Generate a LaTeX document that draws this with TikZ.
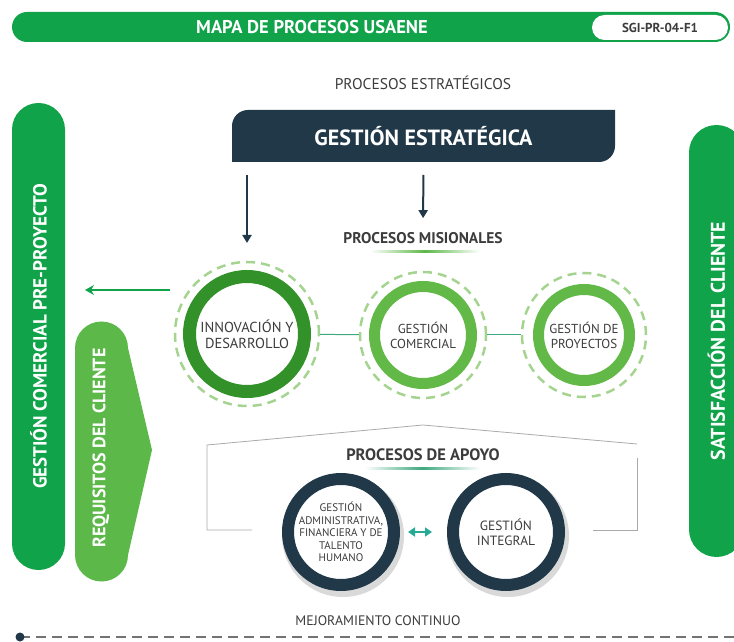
\documentclass[tikz,border=0pt]{standalone}
\usepackage{fontspec}
\setmainfont{PT Sans}
\usetikzlibrary{arrows.meta,backgrounds}

\definecolor{barGreen}{RGB}{16,163,74}
\definecolor{lightGreen}{RGB}{92,184,72}
\definecolor{ringDark}{RGB}{50,145,40}
\definecolor{ringLight}{RGB}{98,185,72}
\definecolor{dashGreen}{RGB}{165,212,145}
\definecolor{navy}{RGB}{32,56,72}
\definecolor{tealLine}{RGB}{62,168,126}
\definecolor{tealArrow}{RGB}{38,170,150}
\definecolor{textGray}{RGB}{60,60,60}
\definecolor{roofGray}{RGB}{170,170,170}

\tikzset{
	sidebar/.style={fill=#1, text=white, rotate=90, inner sep=0pt, outer sep=0pt},
	heading/.style={text=textGray, inner sep=2pt},
	ringnode/.style={circle, fill=white, align=center, text=textGray, inner sep=0pt},
	dashring/.style={circle, draw=dashGreen, line width=2.5pt, dash pattern=on 9pt off 6pt},
	apoyoring/.style={ringnode, draw=navy, line width=12pt, minimum size=106pt},
	navyarrow/.style={navy, line width=2pt, -{Triangle[width=9pt,length=8pt]}},
}

\begin{document}
\begin{tikzpicture}[x=1pt, y=1pt]
	\useasboundingbox (0,0) rectangle (734,641);
	
	% Title bar
	\node[fill=barGreen, rounded corners=15pt, minimum width=718pt, minimum height=30pt] (topbar) at (371,614) {};
	\node[text=white, font=\fontsize{18.5}{18.5}\selectfont\bfseries] (title) at (312,614) {MAPA DE PROCESOS USAENE};
	\node[fill=white, rounded corners=12.5pt, minimum width=136pt, minimum height=25pt,
		text=textGray, font=\fontsize{13}{13}\selectfont\bfseries] (code) at (660,613.5) {SGI-PR-04-F1};
	
	% Side bars
	\node[sidebar=barGreen, rounded corners=26.5pt, minimum width=467pt, minimum height=53pt,
		font=\fontsize{19}{19}\selectfont\bfseries] (preproy) at (38.5,304.5) {GESTIÓN COMERCIAL PRE-PROYECTO};
	\node[sidebar=barGreen, rounded corners=27.5pt, minimum width=432pt, minimum height=55pt,
		font=\fontsize{19.8}{19.8}\selectfont\bfseries] (satisf) at (716.5,300) {SATISFACCIÓN DEL CLIENTE};
	\node[sidebar=lightGreen, fill=none, font=\fontsize{18}{18}\selectfont\bfseries] (req) at (101,193) {REQUISITOS DEL CLIENTE};
	
	% Strategic processes
	\node[heading, font=\fontsize{15.5}{15.5}\selectfont] (estrattitle) at (423,558) {PROCESOS ESTRATÉGICOS};
	\node[text=white, minimum width=383pt, minimum height=52pt, inner sep=0pt, outer sep=0pt,
		font=\fontsize{22}{22}\selectfont\bfseries] (estrat) at (423.5,505) {GESTIÓN ESTRATÉGICA};
	
	% Mission processes
	\node[heading, font=\fontsize{15.5}{15.5}\selectfont\bfseries] (mision) at (423,403) {PROCESOS MISIONALES};
	\shade[left color=white, right color=white, middle color=lightGreen] (370,388) rectangle (480,390);
	
	\node[ringnode, draw=ringDark, line width=13pt, minimum size=115pt, font=\fontsize{14.5}{16}\selectfont] (innov) at (247,307) {INNOVACIÓN Y\\DESARROLLO};
	\node[ringnode, draw=ringLight, line width=11pt, minimum size=97pt, font=\fontsize{13}{15}\selectfont] (comer) at (423,306) {GESTIÓN\\COMERCIAL};
	\node[ringnode, draw=ringLight, line width=11pt, minimum size=91pt, font=\fontsize{13}{15}\selectfont] (proy) at (584,306) {GESTIÓN DE\\PROYECTOS};
	
	\node[dashring, minimum size=144pt] (innovd) at (innov) {};
	\node[dashring, minimum size=126pt] (comerd) at (comer) {};
	\node[dashring, minimum size=124pt] (proyd) at (proy) {};
	
	\draw[tealLine, line width=1pt] (innovd) -- (comerd);
	\draw[tealLine, line width=1pt] (comerd) -- (proyd);
	
	% Arrows from the strategic box
	\draw[navyarrow, shorten <=13pt, shorten >=27pt] (estrat.south -| innov.center) -- (innov.north);
	\draw[navyarrow, shorten <=13pt, shorten >=12pt] (estrat.south) -- (mision.north);
	
	% Arrow to the commercial bar
	\coordinate (arrStart) at (170,351);
	\coordinate (arrEnd) at (85,351);
	\draw[barGreen, line width=1.6pt, -{Stealth[length=9pt,width=10pt,inset=3pt]}] (arrStart) -- (arrEnd);
	
	% Support processes
	\draw[roofGray, line width=0.8pt] (252,111) -- (207,111) -- (207,196) -- (423,216) -- (637,197);
	\draw[roofGray, line width=0.8pt] (593,111) -- (637,111) -- (637,183);
	
	\node[heading, font=\fontsize{16.5}{16.5}\selectfont\bfseries] (apoyo) at (423,186) {PROCESOS DE APOYO};
	\shade[left color=white, right color=white, middle color=tealLine] (365,172) rectangle (480,174);
	
	\fill[black!15] (343,105) circle (61pt);
	\fill[black!15] (508,105) circle (61pt);
	\node[apoyoring, font=\fontsize{11}{12.5}\selectfont] (admin) at (341,109) {GESTIÓN\\ADMINISTRATIVA,\\FINANCIERA Y DE\\TALENTO\\HUMANO};
	\node[apoyoring, font=\fontsize{13.4}{15.5}\selectfont] (integ) at (506,109) {GESTIÓN\\INTEGRAL};
	
	\draw[tealArrow, line width=2.5pt, {Triangle[width=9pt,length=7pt]}-{Triangle[width=9pt,length=7pt]}, shorten <=8pt, shorten >=15pt] (admin) -- (integ);
	
	% Continuous improvement
	\node[heading, font=\fontsize{13.8}{13.8}\selectfont] (mejora) at (378,20) {MEJORAMIENTO CONTINUO};
	\coordinate (lineStart) at (20,4);
	\coordinate (lineEnd) at (734,4);
	\draw[black!55, line width=1.2pt, dash pattern=on 10pt off 6pt] (lineStart) -- (lineEnd);
	\fill[navy] (lineStart) circle (4.5pt);
	
	% Background shapes
	\begin{scope}[on background layer]
		\fill[navy] (estrat.south west) -- ([yshift=-16pt]estrat.north west) arc[start angle=180, end angle=90, radius=16pt]
			-- (estrat.north east) -- ([yshift=16pt]estrat.south east) arc[start angle=0, end angle=-90, radius=16pt] -- cycle;
		\fill[lightGreen] (75,86) -- (75,293) arc[start angle=180, end angle=0, radius=26.5pt]
			-- (152,191) -- (128,86) arc[start angle=0, end angle=-180, radius=26.5pt] -- cycle;
	\end{scope}
\end{tikzpicture}
\end{document}
